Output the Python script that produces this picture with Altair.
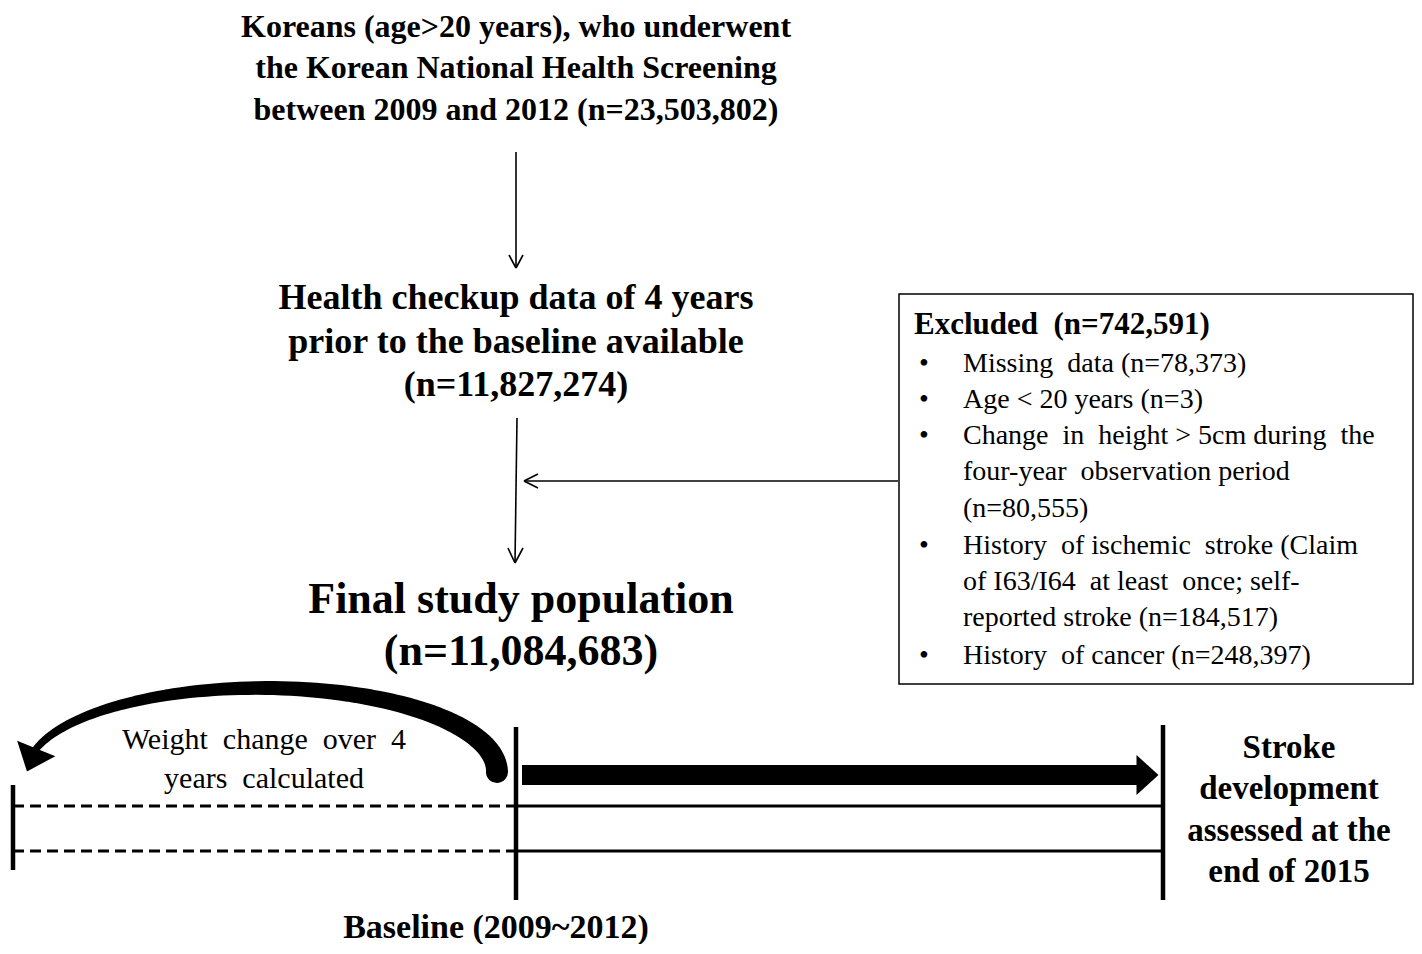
import altair as alt
import pandas as pd
import numpy as np

FONT = "Liberation Serif"
W, H = 1406, 936
X0, Y0 = 8, 8
NB = "\u00a0"

# ---------------- text content ----------------
top_lines = ["Koreans (age>20 years), who underwent",
             "the Korean National Health Screening",
             "between 2009 and 2012 (n=23,503,802)"]
mid_lines = ["Health checkup data of 4 years",
             "prior to the baseline available",
             "(n=11,827,274)"]
final_lines = ["Final study population", "(n=11,084,683)"]
excl_title = ["Excluded" + NB + " (n=742,591)"]
excl_bullets = ["•", "•", "•", "", "", "•", "", "", "•"]
excl_items = ["Missing" + NB + " data (n=78,373)",
              "Age < 20 years (n=3)",
              "Change" + NB + " in" + NB + " height > 5cm during" + NB + " the",
              "four-year" + NB + " observation period",
              "(n=80,555)",
              "History" + NB + " of ischemic" + NB + " stroke (Claim",
              "of I63/I64" + NB + " at least" + NB + " once; self-",
              "reported stroke (n=184,517)",
              "History" + NB + " of cancer (n=248,397)"]
weight_lines = ["Weight" + NB + " change" + NB + " over" + NB + " 4",
                "years" + NB + " calculated"]
stroke_lines = ["Stroke", "development", "assessed at the", "end of 2015"]
baseline_label = ["Baseline (2009~2012)"]

# ---------------- layout (pixel positions in the figure) ----------------
top_pos = dict(x=516, y=[27, 68, 110], size=32)
mid_pos = dict(x=516, y=[298, 342, 385], size=36)
final_pos = dict(x=521, y=[600, 652], size=44)
excl_title_pos = dict(x=914, y=[325], size=31)
excl_bullet_x = 919
excl_text_x = 963
excl_y = [364, 400, 436, 472, 509, 546, 582, 618, 656]
excl_size = 28
weight_pos = dict(x=264, y=[740, 779], size=30)
stroke_pos = dict(x=1289, y=[748, 789, 831, 872], size=33)
baseline_pos = dict(x=496, y=[928], size=34)

excl_box = dict(x=899, x2=1413, y=294, y2=684)

# thin connector segments: x, y, x2, y2
thin_x = [516, 509, 523, 517, 508, 523, 898, 524, 524]
thin_y = [152, 255, 255, 418, 548, 548, 481, 481, 481]
thin_x2 = [516, 516, 516, 515, 515, 515, 524, 538, 538]
thin_y2 = [268, 268, 268, 563, 563, 563, 481, 474, 488]

# timeline
vert_x = [13, 516, 1163]
vert_y = [785, 727, 725]
vert_y2 = [870, 900, 900]
dash_x, dash_x2, line_y = 13, 516, [806, 851]
solid_x, solid_x2 = 516, 1163

# straight bold arrow
bold_x, bold_x2, bold_y = 522, 1140, 775
bold_head = dict(x=1147.5, y=775)

# curved arrow (elliptical arc)
arc_cx, arc_cy, arc_rx, arc_ry = 262, 772, 235, 84
arc_end_deg = 164
arc_w_start, arc_w_end = 22, 7
arc_head_angle = 112


def X(f="x"):
    return alt.X(f"{f}:Q", scale=alt.Scale(domain=[X0, X0 + W], nice=False, zero=False), axis=None)


def Y(f="y"):
    return alt.Y(f"{f}:Q", scale=alt.Scale(domain=[Y0, Y0 + H], nice=False, zero=False, reverse=True), axis=None)


def text_layer(lines, xs, ys, size, bold, align="center"):
    if not isinstance(xs, list):
        xs = [xs] * len(lines)
    df = pd.DataFrame({"t": lines, "x": xs, "y": ys})
    return alt.Chart(df).mark_text(
        font=FONT, fontSize=size, fontWeight="bold" if bold else "normal",
        align=align, baseline="middle", color="black"
    ).encode(x=X(), y=Y(), text="t:N")


layers = []

# box
box_df = pd.DataFrame([excl_box])
layers.append(alt.Chart(box_df).mark_rect(fill="white", stroke="black", strokeWidth=1.5)
              .encode(x=X(), x2="x2:Q", y=Y(), y2="y2:Q"))

# thin connectors
thin_df = pd.DataFrame({"x": thin_x, "y": thin_y, "x2": thin_x2, "y2": thin_y2})
layers.append(alt.Chart(thin_df).mark_rule(color="black", strokeWidth=1.6)
              .encode(x=X(), y=Y(), x2="x2:Q", y2="y2:Q"))

# timeline verticals
vert_df = pd.DataFrame({"x": vert_x, "y": vert_y, "y2": vert_y2})
layers.append(alt.Chart(vert_df).mark_rule(color="black", strokeWidth=4.5)
              .encode(x=X(), y=Y(), y2="y2:Q"))

# dashed horizontals
dash_df = pd.DataFrame({"x": [dash_x] * 2, "x2": [dash_x2] * 2, "y": line_y})
layers.append(alt.Chart(dash_df).mark_rule(color="black", strokeWidth=3, strokeDash=[11, 6])
              .encode(x=X(), x2="x2:Q", y=Y()))

# solid horizontals
solid_df = pd.DataFrame({"x": [solid_x] * 2, "x2": [solid_x2] * 2, "y": line_y})
layers.append(alt.Chart(solid_df).mark_rule(color="black", strokeWidth=3)
              .encode(x=X(), x2="x2:Q", y=Y()))

# bold straight arrow
bold_df = pd.DataFrame({"x": [bold_x], "x2": [bold_x2], "y": [bold_y]})
layers.append(alt.Chart(bold_df).mark_rule(color="black", strokeWidth=20, strokeCap="butt")
              .encode(x=X(), x2="x2:Q", y=Y()))
head_df = pd.DataFrame([bold_head])
layers.append(alt.Chart(head_df).mark_point(
    shape="M -0.55 -1 L 0.55 0 L -0.55 1 Z", filled=True, color="black", opacity=1,
    size=1600, strokeWidth=0).encode(x=X(), y=Y()))

# curved arrow body (tapered trail)
theta = np.linspace(0, np.deg2rad(arc_end_deg), 80)
arc_df = pd.DataFrame({
    "x": arc_cx + arc_rx * np.cos(theta),
    "y": arc_cy - arc_ry * np.sin(theta),
    "w": np.linspace(arc_w_start, arc_w_end, len(theta)),
    "i": np.arange(len(theta)),
})
layers.append(alt.Chart(arc_df).mark_trail(color="black")
              .encode(x=X(), y=Y(), size=alt.Size("w:Q", scale=None, legend=None), order="i:Q"))
end_x = arc_cx + arc_rx * np.cos(np.deg2rad(arc_end_deg))
end_y = arc_cy - arc_ry * np.sin(np.deg2rad(arc_end_deg))
ang = np.deg2rad(arc_head_angle)
chead_df = pd.DataFrame({"x": [end_x + 12 * np.cos(ang)], "y": [end_y + 12 * np.sin(ang)]})
layers.append(alt.Chart(chead_df).mark_point(
    shape="M -0.6 -1 L 0.6 0 L -0.6 1 Z", filled=True, color="black", opacity=1,
    size=1700, strokeWidth=0, angle=arc_head_angle).encode(x=X(), y=Y()))

# texts
layers.append(text_layer(top_lines, top_pos["x"], top_pos["y"], top_pos["size"], True))
layers.append(text_layer(mid_lines, mid_pos["x"], mid_pos["y"], mid_pos["size"], True))
layers.append(text_layer(final_lines, final_pos["x"], final_pos["y"], final_pos["size"], True))
layers.append(text_layer(excl_title, excl_title_pos["x"], excl_title_pos["y"], excl_title_pos["size"], True, "left"))
layers.append(text_layer(excl_bullets, excl_bullet_x, excl_y, excl_size, False, "left"))
layers.append(text_layer(excl_items, excl_text_x, excl_y, excl_size, False, "left"))
layers.append(text_layer(weight_lines, weight_pos["x"], weight_pos["y"], weight_pos["size"], False))
layers.append(text_layer(stroke_lines, stroke_pos["x"], stroke_pos["y"], stroke_pos["size"], True))
layers.append(text_layer(baseline_label, baseline_pos["x"], baseline_pos["y"], baseline_pos["size"], True))

chart = alt.layer(*layers).properties(
    width=W, height=H, padding=0, autosize=alt.AutoSizeParams(type="none"),
    background="white"
).configure_view(stroke=None)

chart.save("out.html", embed_options={"renderer": "svg", "actions": False})
